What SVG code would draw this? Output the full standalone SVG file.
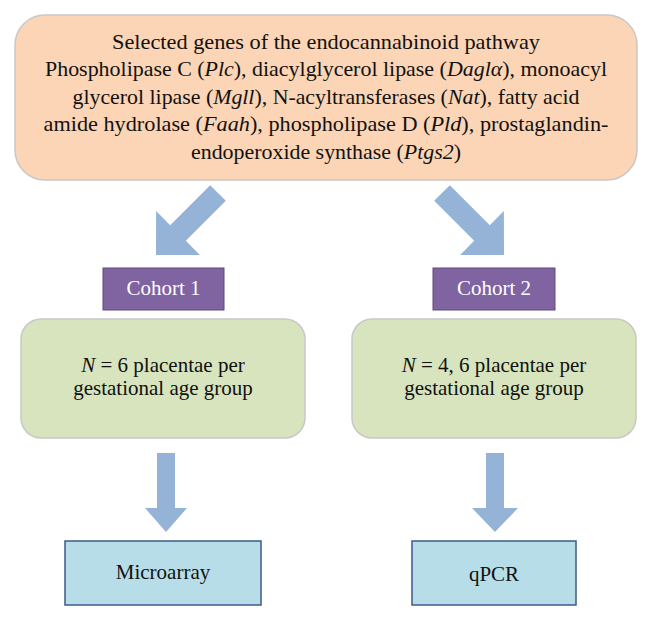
<svg xmlns="http://www.w3.org/2000/svg" width="647" height="620" viewBox="0 0 647 620">
<style>
text{font-family:'Liberation Serif','DejaVu Serif','Times New Roman',serif;fill:#111;text-anchor:middle}
.t{font-size:21px}
.c{font-size:21px;fill:#fff}
.arr{fill:#95b3d7}
</style>
<rect width="647" height="620" fill="#fff"/>
<g id="genes">
<rect x="15" y="15" width="622" height="165" rx="30" fill="#fbd5b5" stroke="#c8c8c8" stroke-width="1.5"/>
<text class="t" x="326" y="49" textLength="428" lengthAdjust="spacingAndGlyphs">Selected genes of the endocannabinoid pathway</text>
<text class="t" x="326" y="76" textLength="562" lengthAdjust="spacingAndGlyphs">Phospholipase C (<tspan font-style="italic">Plc</tspan>), diacylglycerol lipase (<tspan font-style="italic">Daglα</tspan>), monoacyl</text>
<text class="t" x="326" y="104" textLength="507" lengthAdjust="spacingAndGlyphs">glycerol lipase (<tspan font-style="italic">Mgll</tspan>), N-acyltransferases (<tspan font-style="italic">Nat</tspan>), fatty acid</text>
<text class="t" x="326" y="131" textLength="565" lengthAdjust="spacingAndGlyphs">amide hydrolase (<tspan font-style="italic">Faah</tspan>), phospholipase D (<tspan font-style="italic">Pld</tspan>), prostaglandin-</text>
<text class="t" x="326" y="159" textLength="270" lengthAdjust="spacingAndGlyphs">endoperoxide synthase (<tspan font-style="italic">Ptgs2</tspan>)</text>
</g>
<g id="connectors">
<polygon class="arr" points="210.2,185.2 225.8,200.8 185.8,240.8 199.9,254.9 156,255 156.1,211.1 170.2,225.2"/>
<polygon class="arr" points="449.8,185.2 434.2,200.8 474.2,240.8 460.1,254.9 504,255 503.9,211.1 489.8,225.2"/>
<polygon class="arr" points="157,453 175,453 175,508 187,508 166,532 145,508 157,508"/>
<polygon class="arr" points="486,453 504,453 504,508 518,508 495,532 472,508 486,508"/>
</g>
<g id="cohort1">
<rect x="103" y="268" width="121" height="42" fill="#8064a2" stroke="#5f497a"/>
<text class="c" x="163.5" y="295">Cohort 1</text>
</g>
<g id="cohort2">
<rect x="433" y="268" width="122" height="42" fill="#8064a2" stroke="#5f497a"/>
<text class="c" x="494" y="295">Cohort 2</text>
</g>
<g id="n1">
<rect x="21" y="319" width="284" height="119" rx="20" fill="#d7e4bd" stroke="#c8c8c8" stroke-width="1.5"/>
<text class="t" x="163" y="372"><tspan font-style="italic">N</tspan> = 6 placentae per</text>
<text class="t" x="163" y="395">gestational age group</text>
</g>
<g id="n2">
<rect x="352" y="319" width="284" height="119" rx="20" fill="#d7e4bd" stroke="#c8c8c8" stroke-width="1.5"/>
<text class="t" x="494" y="372"><tspan font-style="italic">N</tspan> = 4, 6 placentae per</text>
<text class="t" x="494" y="395">gestational age group</text>
</g>
<g id="microarray">
<rect x="65" y="541" width="196" height="64" fill="#b7dee8" stroke="#3c5a8a" stroke-width="1.5"/>
<text class="t" x="163" y="579">Microarray</text>
</g>
<g id="qpcr">
<rect x="412" y="541" width="164" height="64" fill="#b7dee8" stroke="#3c5a8a" stroke-width="1.5"/>
<text class="t" x="494" y="581">qPCR</text>
</g>
</svg>
